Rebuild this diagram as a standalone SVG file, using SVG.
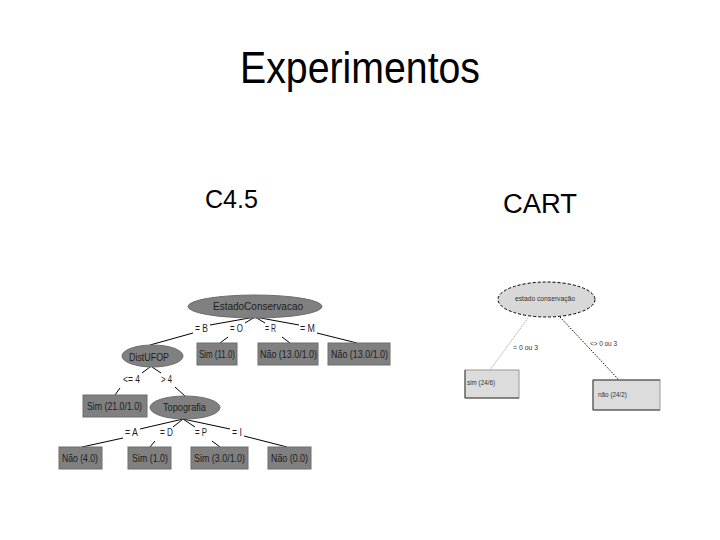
<svg xmlns="http://www.w3.org/2000/svg" width="720" height="540" viewBox="0 0 720 540">
<style>
.title{font-family:"Liberation Sans",Arial,sans-serif;fill:#000}
.t{font-family:"Liberation Sans",Arial,sans-serif;font-size:11px;fill:#1e1e1e}
.node{fill:#808080;stroke:#6e6e6e;stroke-width:1}
.e{stroke:#000;stroke-width:1;fill:none}
.ct{font-family:"Liberation Sans",Arial,sans-serif;font-size:7px;fill:#333}
.cbox{fill:#dcdcdc;stroke:#999;stroke-width:1}
</style>
<rect width="720" height="540" fill="#fff"/>
<text class="title" x="240" y="83" font-size="44" textLength="240" lengthAdjust="spacingAndGlyphs">Experimentos</text>
<text class="title" x="205" y="208" font-size="25" textLength="53" lengthAdjust="spacingAndGlyphs">C4.5</text>
<text class="title" x="503" y="213" font-size="27" textLength="74" lengthAdjust="spacingAndGlyphs">CART</text>

<g id="c45-connectors">
<path class="e" d="M255 317 L210 325 M193 333 L150 345"/>
<path class="e" d="M255 317 L245 323 M228 337 L220 343"/>
<path class="e" d="M255 317 L265 323 M282 337 L290 343"/>
<path class="e" d="M255 317 L299 325 M317 333 L357 343"/>
<path class="e" d="M150 367 L142 373 M120 388 L115 395"/>
<path class="e" d="M152 367 L161 373 M175 387 L185 396"/>
<path class="e" d="M183 419 L140 429 M123 438 L82 447"/>
<path class="e" d="M183 419 L173 427 M155 441 L150 447"/>
<path class="e" d="M183 419 L195 427 M212 441 L220 447"/>
<path class="e" d="M183 419 L230 429 M244 436 L287 447"/>
<text class="t" x="195" y="332" textLength="13" lengthAdjust="spacingAndGlyphs">= B</text>
<text class="t" x="230" y="332" textLength="13" lengthAdjust="spacingAndGlyphs">= O</text>
<text class="t" x="265" y="332" textLength="11" lengthAdjust="spacingAndGlyphs">= R</text>
<text class="t" x="300" y="332" textLength="15" lengthAdjust="spacingAndGlyphs">= M</text>
<text class="t" x="123" y="383" textLength="17" lengthAdjust="spacingAndGlyphs">&lt;= 4</text>
<text class="t" x="161" y="383" textLength="11" lengthAdjust="spacingAndGlyphs">&gt; 4</text>
<text class="t" x="125" y="436" textLength="13" lengthAdjust="spacingAndGlyphs">= A</text>
<text class="t" x="160" y="436" textLength="13" lengthAdjust="spacingAndGlyphs">= D</text>
<text class="t" x="195" y="436" textLength="12" lengthAdjust="spacingAndGlyphs">= P</text>
<text class="t" x="232" y="436" textLength="10" lengthAdjust="spacingAndGlyphs">= I</text>
</g>

<g id="n-estado">
<ellipse class="node" cx="255" cy="306.5" rx="67" ry="11.5"/>
<text class="t" x="213" y="310" textLength="90" lengthAdjust="spacingAndGlyphs">EstadoConservacao</text>
</g>
<g id="n-distufop">
<ellipse class="node" cx="152.5" cy="356" rx="30.5" ry="11"/>
<text class="t" x="129" y="361" textLength="40" lengthAdjust="spacingAndGlyphs">DistUFOP</text>
</g>
<g id="n-sim11">
<rect class="node" x="197" y="343" width="40" height="22"/>
<text class="t" x="199" y="358" textLength="36" lengthAdjust="spacingAndGlyphs">Sim (11.0)</text>
</g>
<g id="n-naoR">
<rect class="node" x="258" y="343" width="60" height="22"/>
<text class="t" x="260" y="358" textLength="57" lengthAdjust="spacingAndGlyphs">Não (13.0/1.0)</text>
</g>
<g id="n-naoM">
<rect class="node" x="328" y="343" width="62" height="22"/>
<text class="t" x="331" y="358" textLength="57" lengthAdjust="spacingAndGlyphs">Não (13.0/1.0)</text>
</g>
<g id="n-sim21">
<rect class="node" x="83" y="395" width="64" height="22"/>
<text class="t" x="87" y="410" textLength="55" lengthAdjust="spacingAndGlyphs">Sim (21.0/1.0)</text>
</g>
<g id="n-topografia">
<ellipse class="node" cx="185" cy="407.5" rx="35" ry="11.5"/>
<text class="t" x="163" y="411" textLength="43" lengthAdjust="spacingAndGlyphs">Topografia</text>
</g>
<g id="n-nao4">
<rect class="node" x="59" y="447" width="43" height="22"/>
<text class="t" x="62" y="462" textLength="36" lengthAdjust="spacingAndGlyphs">Não (4.0)</text>
</g>
<g id="n-sim1">
<rect class="node" x="128" y="447" width="43" height="22"/>
<text class="t" x="132" y="462" textLength="36" lengthAdjust="spacingAndGlyphs">Sim (1.0)</text>
</g>
<g id="n-sim3">
<rect class="node" x="191" y="447" width="57" height="22"/>
<text class="t" x="194" y="462" textLength="51" lengthAdjust="spacingAndGlyphs">Sim (3.0/1.0)</text>
</g>
<g id="n-nao0">
<rect class="node" x="268" y="447" width="43" height="22"/>
<text class="t" x="271" y="462" textLength="37" lengthAdjust="spacingAndGlyphs">Não (0.0)</text>
</g>

<g id="cart-connectors">
<line x1="528" y1="318" x2="490" y2="370" stroke="#aaa" stroke-width="1" stroke-dasharray="1.5 1"/>
<line x1="560" y1="317" x2="619" y2="380" stroke="#000" stroke-width="1" stroke-dasharray="1.5 1.5"/>
<text class="ct" x="513" y="350" textLength="25" lengthAdjust="spacingAndGlyphs">= 0 ou 3</text>
<text class="ct" x="590" y="346" textLength="27" lengthAdjust="spacingAndGlyphs">&lt;&gt; 0 ou 3</text>
</g>
<g id="cart-root">
<ellipse cx="546.5" cy="299.5" rx="48.5" ry="17.5" fill="#d8d8d8" stroke="#000" stroke-width="1" stroke-dasharray="3 2"/>
<text class="ct" x="515" y="301" textLength="60" lengthAdjust="spacingAndGlyphs">estado conservação</text>
</g>
<g id="cart-sim">
<rect class="cbox" x="465" y="370" width="54" height="28"/>
<path d="M465 370 V398 H519" fill="none" stroke="#444" stroke-width="1"/>
<text class="ct" x="467" y="385" textLength="28" lengthAdjust="spacingAndGlyphs">sim (24/6)</text>
</g>
<g id="cart-nao">
<rect class="cbox" x="593" y="380" width="67" height="30"/>
<path d="M660 380 H593 V410 H660" fill="none" stroke="#444" stroke-width="1"/>
<text class="ct" x="598" y="397" textLength="29" lengthAdjust="spacingAndGlyphs">não (24/2)</text>
</g>
</svg>
